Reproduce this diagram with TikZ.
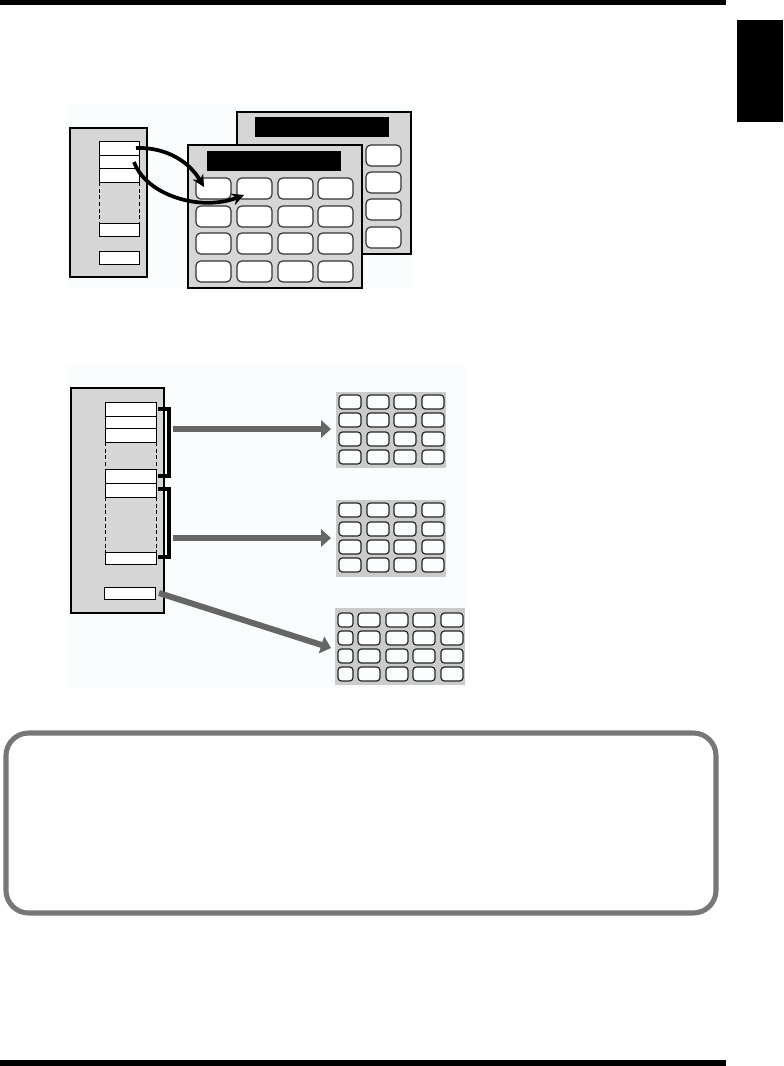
\documentclass[tikz,border=0pt]{standalone}
\usetikzlibrary{arrows.meta,fit}
\definecolor{panelgray}{HTML}{D6D6D6}
\definecolor{padgray}{HTML}{CBCBCB}
\definecolor{arrowgray}{HTML}{666666}
\definecolor{boxgray}{HTML}{777777}
\definecolor{bgtint}{HTML}{FAFDFE}
\definecolor{keyfill}{HTML}{FAFEFF}
\begin{document}
\begin{tikzpicture}[x=0.75pt,y=-0.75pt,
  panel/.style={draw=black,line width=2pt,fill=panelgray,inner sep=0pt},
  slot/.style={draw=black,line width=0.7pt,fill=white,inner sep=0pt},
  blackbar/.style={fill=black,draw=none,inner sep=0pt},
  bigkey/.style={draw=black!80,line width=0.9pt,fill=white,rounded corners=3.5pt},
  smallkey/.style={draw=black!85,line width=0.9pt,fill=keyfill,rounded corners=2.5pt},
  pad/.style={fill=padgray,draw=none,inner sep=0pt},
  curvarrow/.style={line width=2.8pt,-{Stealth[length=9pt,width=9pt]}},
  grayarrow/.style={draw=arrowgray,line width=4.5pt,-{Triangle[length=7.5pt,width=13pt]}},
  bracket/.style={line width=3pt,draw=black},
  dashline/.style={line width=0.6pt,dash pattern=on 3pt off 2pt}]
\useasboundingbox (0,0) rectangle (783,1066);
% page rules and tab
\fill[black] (0,0) rectangle (726,5);
\fill[black] (737,20) rectangle (783,122);
\fill[black] (0,1060) rectangle (726,1066);

% ---------- top diagram ----------
\fill[bgtint] (68,103) rectangle (412,289);
\node[panel,fit={(70,128) (147,277)}] (lp) {};
\node[slot,fit={(99,141) (139,155)}] (ts1) {};
\node[slot,fit={(99,155) (139,168)}] (ts2) {};
\node[slot,fit={(99,168) (139,182)}] (ts3) {};
\draw[dashline] (99,182) -- (99,223) (139,182) -- (139,223);
\node[slot,fit={(99,223) (139,236)}] (ts4) {};
\node[slot,fit={(99,251) (139,264)}] (ts5) {};

% back window
\node[panel,fit={(237,112) (411,254)}] (backwin) {};
\node[blackbar,fit={(255,117) (389,137)}] (backbar) {};
\foreach \yy in {145,172,199,227}
  \draw[bigkey] (366,\yy) rectangle (401,\yy+21);

% front window
\node[panel,fit={(188,145) (362,288)}] (frontwin) {};
\node[blackbar,fit={(207,151) (341,171)}] (frontbar) {};
\foreach \yy in {178,206,233,261}
  \foreach \xx in {196,237,278,318}
    \draw[bigkey] (\xx,\yy) rectangle (\xx+35,\yy+21);
\coordinate (k11) at (204,187);
\coordinate (k12) at (244,195);

\coordinate (ts1e) at (136,148);
\coordinate (ts2e) at (134,162);
\draw[curvarrow] (ts1e) .. controls (168,147) and (190,163) .. (k11);
\draw[curvarrow] (ts2e) .. controls (146,195) and (200,212) .. (k12);

% ---------- bottom diagram ----------
\fill[bgtint] (68,365) rectangle (466,688);
\node[panel,fit={(71,388) (164,613)}] (lp2) {};
\node[slot,fit={(105,402) (156,416)}] (bs1) {};
\node[slot,fit={(105,416) (156,428)}] (bs2) {};
\node[slot,fit={(105,428) (156,442)}] (bs3) {};
\draw[dashline] (105,442) -- (105,469) (156,442) -- (156,469);
\node[slot,fit={(105,469) (156,483)}] (bs4) {};
\node[slot,fit={(105,483) (156,497)}] (bs5) {};
\draw[dashline] (105,497) -- (105,552) (156,497) -- (156,552);
\node[slot,fit={(105,552) (156,564)}] (bs6) {};
\node[slot,fit={(104,587) (155,599)}] (bs7) {};

% brackets
\draw[bracket] (158,409) -- (168.5,409) -- (168.5,476) -- (158,476);
\draw[bracket] (158,489) -- (168.5,489) -- (168.5,557) -- (158,557);

% keypads
\node[pad,fit={(336,392) (446,468)}] (pad1) {};
\foreach \yy in {395,413,432,450}
  \foreach \xx in {339,367,394,422}
    \draw[smallkey] (\xx,\yy) rectangle (\xx+22,\yy+14);
\node[pad,fit={(336,500) (446,577)}] (pad2) {};
\foreach \yy in {503,522,540,558}
  \foreach \xx in {339,367,394,422}
    \draw[smallkey] (\xx,\yy) rectangle (\xx+22,\yy+14);
\node[pad,fit={(335,608) (465,685)}] (pad3) {};
\foreach \yy in {613,631,649,667}{
  \draw[smallkey] (338,\yy) rectangle (353,\yy+14);
  \foreach \xx in {358,386,413,441}
    \draw[smallkey] (\xx,\yy) rectangle (\xx+22,\yy+14);
}

% gray arrows
\coordinate (g1s) at (173,429);
\coordinate (g1e) at (331,429);
\coordinate (g2s) at (173,538);
\coordinate (g2e) at (331,538);
\coordinate (g3s) at (159,593);
\coordinate (g3e) at (331,648);
\draw[grayarrow] (g1s) -- (g1e);
\draw[grayarrow] (g2s) -- (g2e);
\draw[grayarrow] (g3s) -- (g3e);

% ---------- rounded note box ----------
\draw[boxgray,line width=3.8pt,rounded corners=17pt] (6,733) rectangle (716,913);
\end{tikzpicture}
\end{document}
